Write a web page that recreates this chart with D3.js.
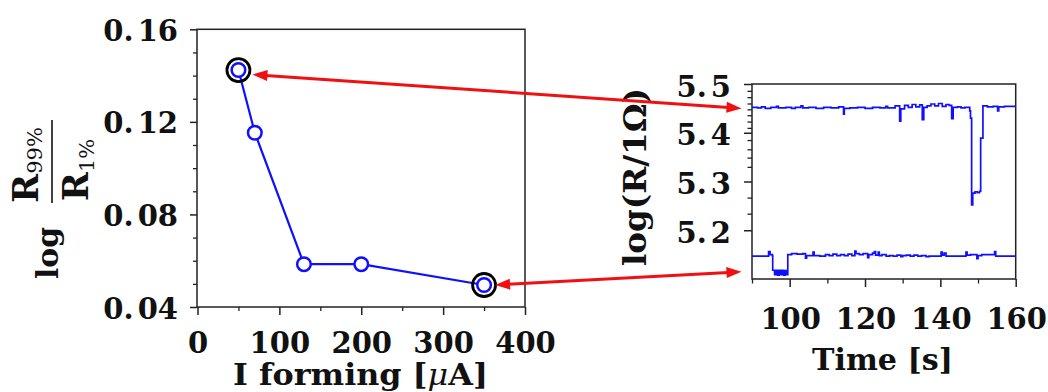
<!DOCTYPE html>
<html><head><meta charset="utf-8">
<script src="https://cdn.jsdelivr.net/npm/d3@7"></script>
<style>body{margin:0;background:#fff}svg{display:block}</style>
</head><body>
<svg id="c" width="1048" height="392"></svg>
<script>
// ---- data ----
const formingCurrent = [50, 70, 130, 200, 350];
const logRatio = [0.1424, 0.1153, 0.0585, 0.0585, 0.0495];
const highlightedIdx = [0, 4];
const leftXTicks = [0, 100, 200, 300, 400];
const leftXMinor = [50, 150, 250, 350];
const leftYTicks = [0.04, 0.08, 0.12, 0.16];
const leftYMinor = [0.05, 0.06, 0.07, 0.09, 0.10, 0.11, 0.13, 0.14, 0.15];
const timeTicks = [100, 120, 140, 160];
const timeMinor = [90, 110, 130, 150];
const logRTicks = [5.2, 5.3, 5.4, 5.5];
const logRMinor = [5.234, 5.267, 5.33, 5.349, 5.366, 5.385, 5.41, 5.423, 5.436, 5.448, 5.46, 5.473, 5.486];
// time trace, high resistance state [t, log R]
const traceHigh = [
 [90,5.452],[91.5,5.451],[92.5,5.453],[93.5,5.450],[95,5.452],[96.5,5.454],[97,5.451],[99,5.452],
 [100.5,5.450],[101.5,5.452],[103,5.455],[103.5,5.451],[105,5.452],[107,5.450],[109,5.452],[111,5.451],
 [113,5.453],[114.3,5.438],[114.5,5.450],[116,5.451],[118,5.452],[120,5.450],[122,5.452],[124,5.451],
 [125.5,5.454],[126,5.451],[128,5.455],[129.2,5.424],[129.5,5.449],[130.5,5.456],[131.5,5.452],
 [132.5,5.458],[133.5,5.453],[134.5,5.457],[135.2,5.427],[135.6,5.452],[136.5,5.455],[137.5,5.459],
 [138.5,5.455],[139.5,5.460],[140.5,5.454],[141.5,5.458],[142.3,5.456],[143,5.429],[143.4,5.452],
 [144.5,5.453],[145.5,5.451],[146.5,5.452],[147.8,5.445],[148.0,5.43],[148.3,5.252],[148.6,5.276],
 [149.2,5.279],[149.8,5.277],[150.4,5.280],[150.7,5.389],[151.3,5.455],[152.5,5.453],[154,5.454],
 [155.2,5.445],[155.5,5.453],[157,5.454],[160,5.454]
];
// time trace, low resistance state [t, log R]
const traceLow = [
 [90,5.147],[94.2,5.147],[94.4,5.156],[94.8,5.150],[95.4,5.148],[95.5,5.118],[96.0,5.109],[96.4,5.118],
 [96.8,5.108],[97.2,5.118],[97.6,5.109],[98.0,5.118],[98.4,5.108],[98.8,5.117],[99.2,5.109],[99.5,5.150],
 [100.5,5.152],[102,5.151],[103.5,5.152],[104.2,5.143],[104.5,5.148],[106.2,5.155],[106.5,5.148],
 [108,5.147],[109.5,5.150],[110.5,5.148],[111.5,5.151],[112.5,5.148],[113.5,5.150],[114.5,5.148],
 [115.5,5.151],[116.5,5.148],[117.3,5.157],[117.6,5.152],[118.5,5.150],[119.5,5.152],[120.7,5.144],
 [121,5.150],[122,5.153],[122.5,5.156],[122.8,5.149],[123.5,5.155],[123.8,5.148],[124.5,5.150],
 [125.6,5.147],[126.5,5.148],[127.5,5.147],[128.5,5.149],[129.5,5.146],[130,5.148],[131,5.149],
 [132,5.147],[133,5.149],[134,5.147],[135,5.148],[136.2,5.146],[137,5.147],[140.2,5.155],[140.5,5.149],
 [141,5.153],[141.5,5.147],[146.8,5.155],[147.1,5.149],[148,5.150],[149.7,5.142],[150,5.148],
 [151,5.150],[154.4,5.156],[154.7,5.147],[160,5.147]
];
// arrows: from highlighted point index to a level on the time trace
const arrowFromIdx = [0, 4];
const arrowToLevel = [5.45, 5.115];

// ---- drawing ----
const svg = d3.select("#c");
const FONT = "'DejaVu Serif', 'Liberation Serif', serif";
const BLUE = "#1010ff", RED = "#f01010", AX = "#222";

const xL = d3.scaleLinear().domain([0, 400]).range([197.5, 525]);
const yL = d3.scaleLinear().domain([0.04, 0.16]).range([307, 29.3]);
const xR = d3.scaleLinear().domain([90, 160]).range([752, 1015.7]);
const yR = d3.scaleLinear().domain([5.1, 5.5]).range([279, 84]);

function frame(x0, x1, y0, y1) {
  svg.append("rect").attr("x", x0).attr("y", y0).attr("width", x1 - x0).attr("height", y1 - y0)
    .attr("fill", "none").attr("stroke", AX).attr("stroke-width", 1.5);
}
function tickLabel(g, txt, x, y, anchor, gapAfterDot) {
  const t = g.append("text").attr("x", x).attr("y", y).attr("text-anchor", anchor)
    .attr("font-family", FONT).attr("font-weight", "bold").attr("font-size", 29)
    .attr("fill", "#111");
  const i = txt.indexOf(".");
  if (i >= 0) {
    t.append("tspan").text(txt.slice(0, i + 1));
    t.append("tspan").attr("dx", gapAfterDot).text(txt.slice(i + 1));
  } else t.text(txt);
}

// Left chart frame & axes
frame(xL(0) - 0.5, xL(400), yL(0.16), yL(0.04));
const gL = svg.append("g");
gL.append("g").attr("transform", `translate(${xL(0) - 0.5},0)`)
  .call(d3.axisLeft(yL).tickValues(leftYTicks).tickSize(7).tickFormat(""))
  .call(g => g.select(".domain").remove())
  .call(g => g.selectAll("line").attr("stroke", AX).attr("stroke-width", 1.5));
gL.append("g").attr("transform", `translate(${xL(0) - 0.5},0)`)
  .call(d3.axisLeft(yL).tickValues(leftYMinor).tickSize(4).tickFormat(""))
  .call(g => g.select(".domain").remove())
  .call(g => g.selectAll("line").attr("stroke", AX).attr("stroke-width", 1.3));
gL.append("g").attr("transform", `translate(0,${yL(0.04)})`)
  .call(d3.axisBottom(xL).tickValues(leftXTicks).tickSize(8).tickFormat(""))
  .call(g => g.select(".domain").remove())
  .call(g => g.selectAll("line").attr("stroke", AX).attr("stroke-width", 1.5));
gL.append("g").attr("transform", `translate(0,${yL(0.04)})`)
  .call(d3.axisBottom(xL).tickValues(leftXMinor).tickSize(4).tickFormat(""))
  .call(g => g.select(".domain").remove())
  .call(g => g.selectAll("line").attr("stroke", AX).attr("stroke-width", 1.3));
leftYTicks.forEach(v => tickLabel(svg, d3.format(".2f")(v), 178, yL(v) + 11.5, "end", 4));
leftXTicks.forEach(v => tickLabel(svg, String(v), xL(v) + 0.5, 352.5, "middle", 0));

// x title
const xt = svg.append("text").attr("x", 360.5).attr("y", 385).attr("text-anchor", "middle")
  .attr("font-family", FONT).attr("font-weight", "bold").attr("font-size", 29)
  .attr("textLength", 255).attr("lengthAdjust", "spacingAndGlyphs").attr("fill", "#111");
xt.append("tspan").text("I forming [");
xt.append("tspan").attr("font-style", "italic").attr("font-weight", "normal").text("μ");
xt.append("tspan").text("A]");

// y title: log (R99% / R1%)
function rot(B, C) { return `translate(${B},${C}) rotate(-90)`; }
svg.append("text").attr("transform", rot(58, 253)).attr("text-anchor", "middle")
  .attr("font-family", FONT).attr("font-weight", "bold").attr("font-size", 29)
  .attr("textLength", 52).attr("lengthAdjust", "spacingAndGlyphs").attr("fill", "#111").text("log");
const num = svg.append("text").attr("transform", rot(38, 165)).attr("text-anchor", "middle")
  .attr("font-family", FONT).attr("font-weight", "bold").attr("font-size", 35).attr("fill", "#111");
num.append("tspan").text("R");
num.append("tspan").attr("font-size", 21).attr("font-weight", "normal").attr("dy", 4).text("99%");
const den = svg.append("text").attr("transform", rot(88, 170)).attr("text-anchor", "middle")
  .attr("font-family", FONT).attr("font-weight", "bold").attr("font-size", 35).attr("fill", "#111");
den.append("tspan").text("R");
den.append("tspan").attr("font-size", 21).attr("font-weight", "normal").attr("dy", 6).text("1%");
svg.append("line").attr("x1", 52).attr("x2", 52).attr("y1", 120).attr("y2", 203)
  .attr("stroke", "#111").attr("stroke-width", 1.6);

// Left chart data
const pts = formingCurrent.map((c, i) => [c, logRatio[i]]);
svg.append("path").datum(pts)
  .attr("d", d3.line().x(d => xL(d[0])).y(d => yL(d[1])))
  .attr("fill", "none").attr("stroke", BLUE).attr("stroke-width", 2.2);
svg.selectAll("circle.hl").data(highlightedIdx.map(i => pts[i])).join("circle").attr("class", "hl")
  .attr("cx", d => xL(d[0])).attr("cy", d => yL(d[1])).attr("r", 11.5)
  .attr("fill", "none").attr("stroke", "#000").attr("stroke-width", 2.8);
svg.selectAll("circle.pt").data(pts).join("circle").attr("class", "pt")
  .attr("cx", d => xL(d[0])).attr("cy", d => yL(d[1])).attr("r", 6.8)
  .attr("fill", "#fff").attr("stroke", BLUE).attr("stroke-width", 2.5);

// Right chart frame & axes
frame(xR(90), xR(160), yR(5.5), yR(5.1));
svg.append("g").attr("transform", `translate(${xR(90)},0)`)
  .call(d3.axisLeft(yR).tickValues(logRTicks).tickSize(8).tickFormat(""))
  .call(g => g.select(".domain").remove())
  .call(g => g.selectAll("line").attr("stroke", AX).attr("stroke-width", 1.5));
svg.append("g").attr("transform", `translate(${xR(90)},0)`)
  .call(d3.axisLeft(yR).tickValues(logRMinor).tickSize(4.5).tickFormat(""))
  .call(g => g.select(".domain").remove())
  .call(g => g.selectAll("line").attr("stroke", AX).attr("stroke-width", 1.3));
svg.append("g").attr("transform", `translate(0,${yR(5.1)})`)
  .call(d3.axisBottom(xR).tickValues(timeTicks).tickSize(8).tickFormat(""))
  .call(g => g.select(".domain").remove())
  .call(g => g.selectAll("line").attr("stroke", AX).attr("stroke-width", 1.5));
svg.append("g").attr("transform", `translate(0,${yR(5.1)})`)
  .call(d3.axisBottom(xR).tickValues(timeMinor).tickSize(4.5).tickFormat(""))
  .call(g => g.select(".domain").remove())
  .call(g => g.selectAll("line").attr("stroke", AX).attr("stroke-width", 1.3));
logRTicks.forEach(v => tickLabel(svg, d3.format(".1f")(v), 731, yR(v) + 12.5, "end", 4));
timeTicks.forEach(v => tickLabel(svg, String(v), xR(v) + 1, 329, "middle", 0));
svg.append("text").attr("x", 882.5).attr("y", 370).attr("text-anchor", "middle")
  .attr("font-family", FONT).attr("font-weight", "bold").attr("font-size", 30)
  .attr("textLength", 141).attr("lengthAdjust", "spacingAndGlyphs").attr("fill", "#111").text("Time [s]");
svg.append("text").attr("transform", rot(646, 177)).attr("text-anchor", "middle")
  .attr("font-family", FONT).attr("font-weight", "bold").attr("font-size", 31)
  .attr("textLength", 178).attr("lengthAdjust", "spacingAndGlyphs").attr("fill", "#111").text("log(R/1Ω)");

// traces
const stepLine = d3.line().x(d => xR(d[0])).y(d => yR(d[1])).curve(d3.curveStepAfter);
[traceHigh, traceLow].forEach(tr => {
  svg.append("path").datum(tr).attr("d", stepLine)
    .attr("fill", "none").attr("stroke", BLUE).attr("stroke-width", 1.7);
});

// red double-headed arrows
const leftOffsets = [[14, 4.5], [11, 0]];
arrowFromIdx.forEach((pi, k) => {
  const p = pts[pi];
  const a = [xL(p[0]) + leftOffsets[k][0], yL(p[1]) + leftOffsets[k][1]];
  const b = [xR(90) - 10.5, yR(arrowToLevel[k])];
  const dx = b[0] - a[0], dy = b[1] - a[1], L = Math.hypot(dx, dy);
  const ux = dx / L, uy = dy / L, hl = 15, hw = 5.5;
  svg.append("line").attr("x1", a[0] + ux * (hl - 2)).attr("y1", a[1] + uy * (hl - 2))
    .attr("x2", b[0] - ux * (hl - 2)).attr("y2", b[1] - uy * (hl - 2))
    .attr("stroke", RED).attr("stroke-width", 3);
  const head = (tip, dir) => {
    const bx = tip[0] - dir * ux * hl, by = tip[1] - dir * uy * hl;
    return `M${tip[0]},${tip[1]}L${bx - uy * hw},${by + ux * hw}L${bx + uy * hw},${by - ux * hw}Z`;
  };
  svg.append("path").attr("d", head(a, -1)).attr("fill", RED);
  svg.append("path").attr("d", head(b, 1)).attr("fill", RED);
});
</script>
</body></html>
